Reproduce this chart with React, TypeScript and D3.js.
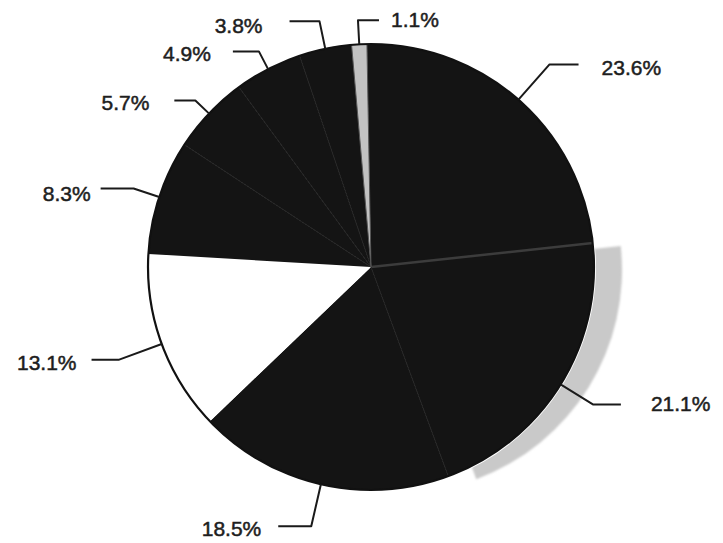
import React from 'react';
import * as d3 from 'd3';

// Shares in percent, clockwise from the top
const categories = ['A', 'B', 'C', 'D', 'E', 'F', 'G', 'H', 'I'];
const shares = [1.1, 23.6, 21.1, 18.5, 13.1, 8.3, 5.7, 4.9, 3.8];
const shareLabels = ['1.1%', '23.6%', '21.1%', '18.5%', '13.1%', '8.3%', '5.7%', '4.9%', '3.8%'];

const DARK = '#141414';
const sliceFills = ['#c2c2c2', DARK, DARK, DARK, '#ffffff', DARK, DARK, DARK, DARK];

// Leader layout: elbow radius, horizontal run, text offset from run end
const leaderLayout = [
  { reach: 247, run: 21, dx: 12, dy: 7, anchor: 'start' },
  { reach: 270, run: 29, dx: 23, dy: 11, anchor: 'start' },
  { reach: 261, run: 28, dx: 30, dy: 7, anchor: 'start' },
  { reach: 266, run: -33, dx: -17, dy: 10, anchor: 'end' },
  { reach: 269, run: -27, dx: -15, dy: 10, anchor: 'end' },
  { reach: 250, run: -33, dx: -10, dy: 12, anchor: 'end' },
  { reach: 242, run: -21, dx: -25, dy: 9, anchor: 'end' },
  { reach: 243, run: -26, dx: -22, dy: 10, anchor: 'end' },
  { reach: 251, run: -30, dx: -27, dy: 12, anchor: 'end' },
];

const W = 723;
const H = 543;
const CX = 371;
const CY = 267;
const R = 223;
const START = (-5 * Math.PI) / 180;

export default function App() {
  const pie = d3
    .pie<number>()
    .sort(null)
    .value((d) => d)
    .startAngle(START)
    .endAngle(START + 2 * Math.PI);
  const arcs = pie(shares);
  const arc = d3.arc<d3.PieArcDatum<number>>().innerRadius(0).outerRadius(R);

  const polar = (a: number, r: number): [number, number] => [Math.sin(a) * r, -Math.cos(a) * r];

  // Separators between neighbouring dark slices; the one after the largest slice is lighter
  const separators = arcs
    .map((a, i) => {
      const j = (i + 1) % arcs.length;
      const both = sliceFills[i] === DARK && sliceFills[j] === DARK;
      return both ? { ang: a.endAngle, strong: i === 1 } : null;
    })
    .filter((v) => v !== null) as { ang: number; strong: boolean }[];

  const shadowSlice = arcs[2];

  return (
    <svg
      width={W}
      height={H}
      style={{ position: 'absolute', left: 0, top: 0, background: '#ffffff' }}
      fontFamily="'Liberation Sans', Arial, Helvetica, sans-serif"
    >
      <defs>
        <filter id="soft" x="-10%" y="-10%" width="120%" height="120%">
          <feGaussianBlur stdDeviation="1.2" />
        </filter>
      </defs>
      <rect width={W} height={H} fill="#ffffff" />
      <g transform={`translate(${CX},${CY})`}>
        {/* offset shadow of the 21.1% slice */}
        <path
          d={arc(shadowSlice) || ''}
          transform="translate(28,3)"
          fill="#c9c9c9"
          filter="url(#soft)"
        />
        <circle r={R} fill="none" stroke="#ffffff" strokeWidth={4} />
        {arcs.map((a, i) => (
          <path key={categories[i]} d={arc(a) || ''} fill={sliceFills[i]} />
        ))}
        {separators.map((s, i) => {
          const [x, y] = polar(s.ang, R);
          return (
            <line
              key={i}
              x1={0}
              y1={0}
              x2={x}
              y2={y}
              stroke={s.strong ? '#3c3c3c' : '#222'}
              strokeWidth={s.strong ? 2.5 : 1}
            />
          );
        })}
        {/* edges of the light slice */}
        {[arcs[0].startAngle, arcs[0].endAngle].map((ang, i) => {
          const [x, y] = polar(ang, R);
          return <line key={'e' + i} x1={0} y1={0} x2={x} y2={y} stroke="#555" strokeWidth={1} />;
        })}
        <circle r={R} fill="none" stroke="#111" strokeWidth={2.2} />

        {arcs.map((a, i) => {
          const mid = (a.startAngle + a.endAngle) / 2;
          const L = leaderLayout[i];
          const [x0, y0] = polar(mid, R);
          const [x1, y1] = polar(mid, L.reach);
          const x2 = x1 + L.run;
          return (
            <g key={'l' + i}>
              <polyline
                points={`${x0},${y0} ${x1},${y1} ${x2},${y1}`}
                fill="none"
                stroke="#1a1a1a"
                strokeWidth={2}
                strokeLinejoin="round"
              />
              <text
                x={x2 + L.dx}
                y={y1 + L.dy}
                textAnchor={L.anchor}
                fontSize={21}
                fill="#1e1e1e"
                stroke="#1e1e1e"
                strokeWidth={0.5}
              >
                {shareLabels[i]}
              </text>
            </g>
          );
        })}
      </g>
    </svg>
  );
}
